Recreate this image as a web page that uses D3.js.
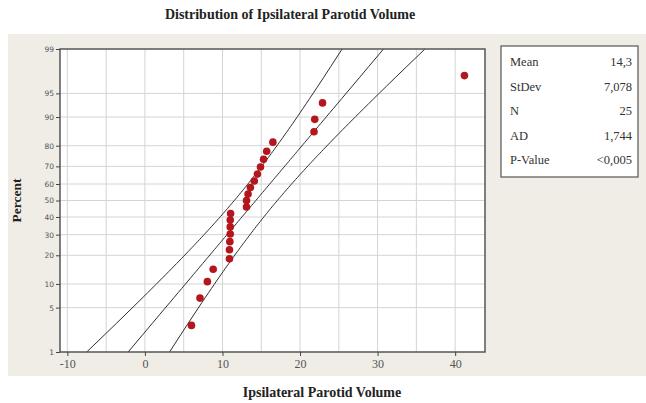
<!DOCTYPE html>
<meta charset="utf-8">
<script src="https://d3js.org/d3.v7.min.js"></script>
<style>
  body { margin: 0; background: #fff; }
  text { font-family: "Liberation Serif", "DejaVu Serif", serif; }
</style>
<div id="chart"></div>
<script>
  // sorted sample values
  const volumes = [6.0, 7.1, 8.05, 8.8, 10.9, 10.9, 10.95, 11.0, 11.0, 11.0, 11.05,
                   13.1, 13.1, 13.3, 13.6, 14.1, 14.5, 14.9, 15.3, 15.7, 16.5,
                   21.8, 21.9, 22.9, 41.2];
  const xTicks = [-10, 0, 10, 20, 30, 40];
  const xGrid = [-10, -5, 0, 5, 10, 15, 20, 25, 30, 35, 40];
  const pctTicks = [1, 5, 10, 20, 30, 40, 50, 60, 70, 80, 90, 95, 99];
  const statLabels = ["Mean", "StDev", "N", "AD", "P-Value"];
  const statValues = ["14,3", "7,078", "25", "1,744", "<0,005"];
  const mean = 14.3, sd = 7.078, n = 25;

  const W = 646, H = 403;
  const plot = {left: 60, right: 485, top: 49, bottom: 352};

  // inverse standard normal (Acklam)
  function probit(p) {
    const a = [-39.69683028665376, 220.9460984245205, -275.9285104469687, 138.3577518672690, -30.66479806614716, 2.506628277459239];
    const b = [-54.47609879822406, 161.5858368580409, -155.6989798598866, 66.80131188771972, -13.28068155288572];
    const c = [-0.007784894002430293, -0.3223964580411365, -2.400758277161838, -2.549732539343734, 4.374664141464968, 2.938163982698783];
    const d = [0.007784695709041462, 0.3224671290700398, 2.445134137142996, 3.754408661907416];
    const pl = 0.02425;
    let q, r;
    if (p < pl) {
      q = Math.sqrt(-2 * Math.log(p));
      return (((((c[0]*q+c[1])*q+c[2])*q+c[3])*q+c[4])*q+c[5]) / ((((d[0]*q+d[1])*q+d[2])*q+d[3])*q+1);
    } else if (p <= 1 - pl) {
      q = p - 0.5; r = q * q;
      return (((((a[0]*r+a[1])*r+a[2])*r+a[3])*r+a[4])*r+a[5])*q / (((((b[0]*r+b[1])*r+b[2])*r+b[3])*r+b[4])*r+1);
    } else {
      q = Math.sqrt(-2 * Math.log(1 - p));
      return -(((((c[0]*q+c[1])*q+c[2])*q+c[3])*q+c[4])*q+c[5]) / ((((d[0]*q+d[1])*q+d[2])*q+d[3])*q+1);
    }
  }

  const svg = d3.select("#chart").append("svg")
    .attr("width", W).attr("height", H);

  // beige panel behind the plot
  svg.append("rect")
    .attr("x", 8).attr("y", 34).attr("width", W - 8).attr("height", 342)
    .attr("fill", "#efede5");

  const x = d3.scaleLinear().domain([-10.95, 43.85]).range([plot.left, plot.right]);
  const y = d3.scaleLinear().domain([probit(0.01), probit(0.99)]).range([plot.bottom, plot.top]);

  svg.append("rect")
    .attr("x", plot.left).attr("y", plot.top)
    .attr("width", plot.right - plot.left).attr("height", plot.bottom - plot.top)
    .attr("fill", "#fff");

  // grid
  svg.append("g").selectAll("line").data(xGrid).join("line")
    .attr("x1", d => x(d)).attr("x2", d => x(d))
    .attr("y1", plot.top).attr("y2", plot.bottom)
    .attr("stroke", "#d4d4d4").attr("stroke-width", 1);
  svg.append("g").selectAll("line").data(pctTicks.slice(1, -1)).join("line")
    .attr("x1", plot.left).attr("x2", plot.right)
    .attr("y1", d => y(probit(d / 100))).attr("y2", d => y(probit(d / 100)))
    .attr("stroke", "#d4d4d4").attr("stroke-width", 1);

  // fitted line and 95% confidence bands
  const zs = d3.range(0, 101).map(i => probit(0.01 + 0.98 * i / 100));
  const line = d3.line().x(d => x(d[0])).y(d => y(d[1]));
  const band = k => zs.map(z => [mean + z * sd + k * 1.96 * sd * Math.sqrt(1 / n + z * z / (2 * n)), z]);
  const fitG = svg.append("g");
  [-1, 0, 1].forEach(k => {
    fitG.append("path")
      .attr("d", line(band(k)))
      .attr("fill", "none").attr("stroke", "#2e2e2e").attr("stroke-width", 1);
  });

  // points
  svg.append("g").selectAll("circle").data(volumes).join("circle")
    .attr("cx", d => x(d))
    .attr("cy", (d, i) => y(probit((i + 1 - 0.3) / (n + 0.4))))
    .attr("r", 3.8)
    .attr("fill", "#b3161d");

  // frame
  svg.append("rect")
    .attr("x", plot.left).attr("y", plot.top)
    .attr("width", plot.right - plot.left).attr("height", plot.bottom - plot.top)
    .attr("fill", "none").attr("stroke", "#555").attr("stroke-width", 1.5);

  // x axis
  const xAxis = svg.append("g")
    .attr("transform", `translate(0,${plot.bottom})`)
    .call(d3.axisBottom(x).tickValues(xTicks).tickFormat(d => String(d)).tickSize(4).tickPadding(3));
  xAxis.select(".domain").remove();
  xAxis.selectAll("line").attr("stroke", "#444");
  xAxis.selectAll("text").attr("font-size", 12).attr("fill", "#555")
    .style("font-family", "Liberation Serif, serif");

  // y axis
  const yAxis = svg.append("g")
    .attr("transform", `translate(${plot.left},0)`)
    .call(d3.axisLeft(y).tickValues(pctTicks.map(p => probit(p / 100)))
      .tickFormat((d, i) => pctTicks[i]).tickSize(4).tickPadding(2));
  yAxis.select(".domain").remove();
  yAxis.selectAll("line").attr("stroke", "#444");
  yAxis.selectAll("text").attr("font-size", 7.5).attr("fill", "#555")
    .style("font-family", "DejaVu Sans, sans-serif");

  // titles
  svg.append("text")
    .attr("x", 290).attr("y", 19).attr("text-anchor", "middle")
    .attr("font-size", 14).attr("font-weight", "bold").attr("fill", "#222")
    .text("Distribution of Ipsilateral Parotid Volume");
  svg.append("text")
    .attr("x", 322).attr("y", 397).attr("text-anchor", "middle")
    .attr("font-size", 14).attr("font-weight", "bold").attr("fill", "#222")
    .text("Ipsilateral Parotid Volume");
  svg.append("text")
    .attr("transform", `translate(21,${(plot.top + plot.bottom) / 2}) rotate(-90)`)
    .attr("text-anchor", "middle")
    .attr("font-size", 13.5).attr("font-weight", "bold").attr("fill", "#222")
    .text("Percent");

  // stats box
  const box = {x: 501, y: 46, w: 137, h: 131};
  svg.append("rect")
    .attr("x", box.x).attr("y", box.y).attr("width", box.w).attr("height", box.h)
    .attr("fill", "#fff").attr("stroke", "#555").attr("stroke-width", 1.2);
  const rowY = i => box.y + 20 + i * 24.5;
  svg.append("g").selectAll("text").data(statLabels).join("text")
    .attr("x", box.x + 9).attr("y", (d, i) => rowY(i))
    .attr("font-size", 12.5).attr("fill", "#333")
    .text(d => d);
  svg.append("g").selectAll("text").data(statValues).join("text")
    .attr("x", box.x + box.w - 6).attr("y", (d, i) => rowY(i))
    .attr("text-anchor", "end")
    .attr("font-size", 12.5).attr("fill", "#333")
    .text(d => d);
</script>
